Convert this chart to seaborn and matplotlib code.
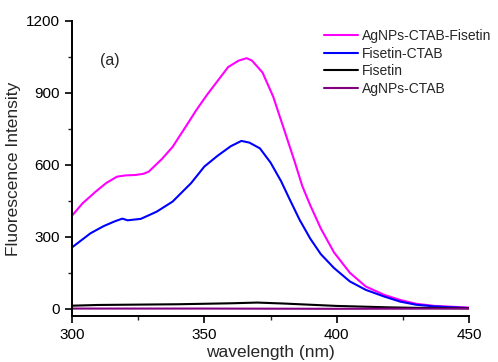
import matplotlib
matplotlib.use("Agg")
import matplotlib.pyplot as plt
import seaborn as sns
from matplotlib.ticker import MultipleLocator

# Data
mag_x = [300, 304, 309, 313, 317, 320, 324, 327, 329, 334, 338, 343, 347, 351, 355, 359, 363, 366, 368, 372, 376, 380, 384, 387, 390, 394, 399, 405, 411, 418, 424, 430, 437, 450]
mag_y = [388, 440, 489, 525, 551, 556, 558, 563, 572, 625, 675, 760, 829, 892, 950, 1008, 1035, 1045, 1035, 985, 885, 752, 618, 512, 432, 335, 235, 150, 93, 58, 37, 21, 12, 5]

blue_x = [300, 307, 312, 316, 319, 321, 326, 332, 338, 345, 350, 355, 360, 364, 367, 371, 375, 379, 382, 386, 390, 394, 399, 405, 411, 418, 424, 430, 437, 450]
blue_y = [256, 315, 345, 364, 376, 369, 375, 405, 447, 524, 593, 638, 678, 700, 693, 669, 610, 532, 462, 371, 293, 228, 170, 114, 79, 51, 30, 17, 10, 3]

fis_x = [300, 310, 320, 330, 340, 350, 360, 370, 380, 390, 400, 410, 420, 430, 440, 450]
fis_y = [13, 16, 17, 18, 19, 21, 23, 26, 22, 17, 12, 9, 6, 4, 3, 2]

ag_x = [300, 350, 400, 450]
ag_y = [1, 1, 0, 1]

series = [
    ("AgNPs-CTAB-Fisetin", mag_x, mag_y, "#FF00FF"),
    ("Fisetin-CTAB", blue_x, blue_y, "#0000FF"),
    ("Fisetin", fis_x, fis_y, "#000000"),
    ("AgNPs-CTAB", ag_x, ag_y, "#800080"),
]

sns.set_style("ticks")
plt.rcParams['font.family'] = ['Liberation Sans', 'DejaVu Sans']

fig = plt.figure(figsize=(4.98, 3.62), dpi=100)
ax = fig.add_axes([72/498, 1-316/362, (469-72)/498, (316-21)/362])

for name, xs, ys, c in series:
    sns.lineplot(x=xs, y=ys, ax=ax, color=c, linewidth=1.5, label=name)

ax.set_xlim(300, 450)
ax.set_ylim(-30, 1200)
ax.xaxis.set_major_locator(MultipleLocator(50))
ax.xaxis.set_minor_locator(MultipleLocator(25))
ax.yaxis.set_major_locator(MultipleLocator(300))
ax.yaxis.set_minor_locator(MultipleLocator(150))
ax.tick_params(which='major', direction='out', length=5, width=1.2, labelsize=11, colors='black')
ax.tick_params(which='minor', direction='out', length=3, width=1.0)
for s in ['top', 'right']:
    ax.spines[s].set_visible(False)
for s in ['left', 'bottom']:
    ax.spines[s].set_linewidth(1.4)
    ax.spines[s].set_color('black')

ax.set_xlabel("wavelength (nm)", fontsize=12.5, labelpad=2)
ax.set_ylabel("Fluorescence Intensity", fontsize=12.5, labelpad=4)
ax.text(310.5, 1037, "(a)", fontsize=11.5, va='center', ha='left')

leg = ax.legend(loc='upper left', bbox_to_anchor=(0.615, 1.0), frameon=False, fontsize=10,
                handlelength=2.4, handletextpad=0.3, labelspacing=0.25, borderaxespad=0.2)

fig.savefig("out.png", dpi=100)
